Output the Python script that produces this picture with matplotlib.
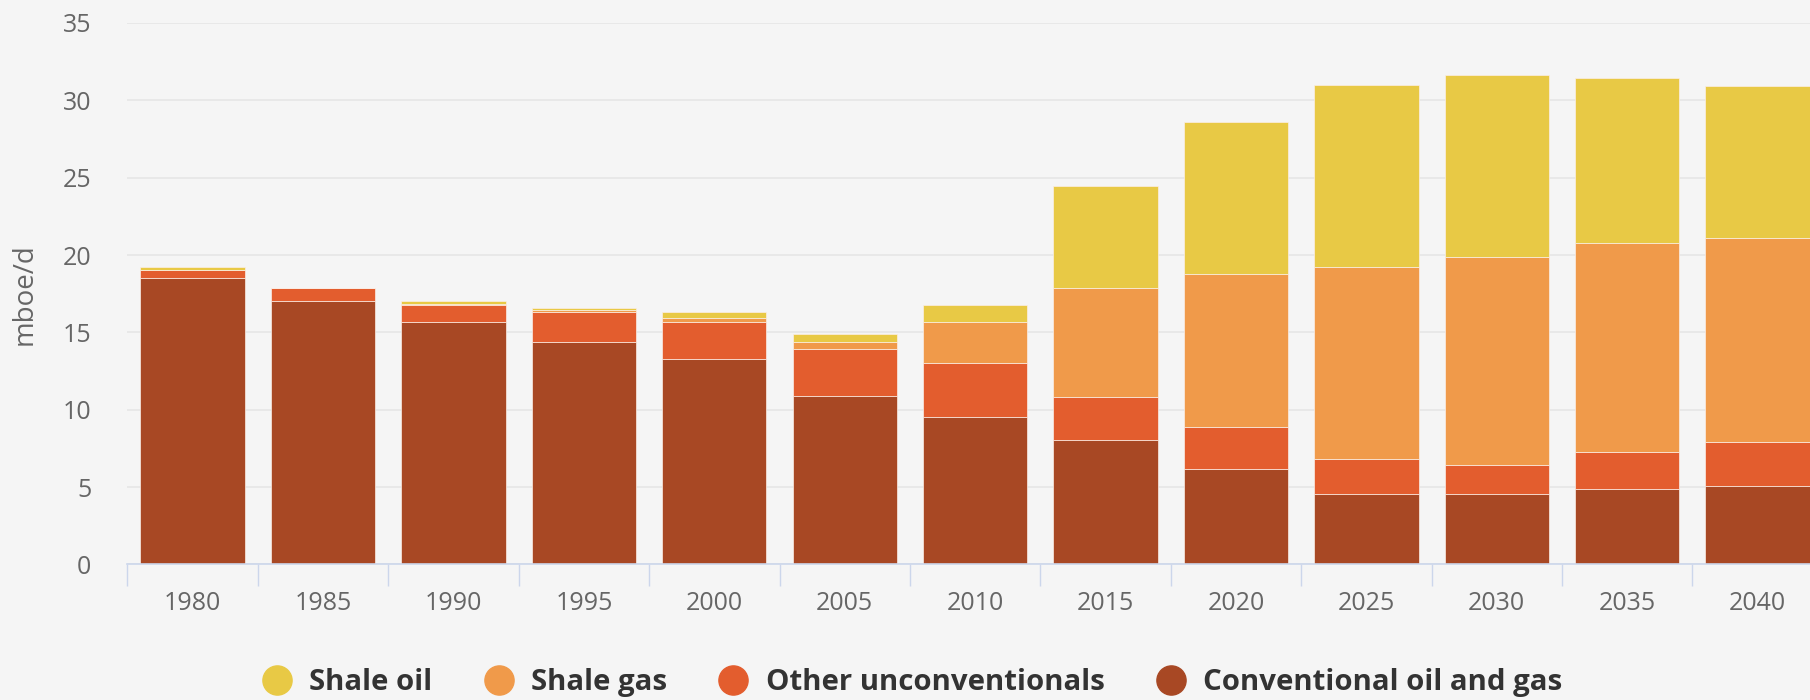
import matplotlib.pyplot as plt
from matplotlib.lines import Line2D
import numpy as np

years = ["1980", "1985", "1990", "1995", "2000", "2005", "2010",
         "2015", "2020", "2025", "2030", "2035", "2040"]
conventional = [18.5, 17.05, 15.65, 14.4, 13.3, 10.9, 9.5, 8.05, 6.15, 4.55, 4.55, 4.9, 5.05]
other_unconv = [0.55, 0.85, 1.1, 1.9, 2.36, 3.05, 3.5, 2.75, 2.75, 2.25, 1.9, 2.35, 2.85]
shale_gas = [0.0, 0.0, 0.1, 0.15, 0.3, 0.45, 2.7, 7.1, 9.85, 12.4, 13.4, 13.55, 13.2]
shale_oil = [0.15, 0.0, 0.2, 0.15, 0.35, 0.5, 1.1, 6.55, 9.85, 11.8, 11.8, 10.65, 9.85]

series = [
    ("Conventional oil and gas", conventional, "#a84824"),
    ("Other unconventionals", other_unconv, "#e35d2e"),
    ("Shale gas", shale_gas, "#f09a4a"),
    ("Shale oil", shale_oil, "#e8c945"),
]

bg = "#f5f5f5"
plt.rcParams['font.family'] = ['Open Sans', 'DejaVu Sans']

fig = plt.figure(figsize=(18.1, 7), dpi=100, facecolor=bg)
ax = fig.add_axes([0.0704, 0.1936, 0.9367, 0.7736], facecolor=bg)

x = np.arange(len(years))
bottom = np.zeros(len(years))
for name, vals, col in series:
    ax.bar(x, vals, width=0.8, bottom=bottom, color=col,
           edgecolor="#fbeee6", linewidth=0.5, zorder=3)
    bottom += np.array(vals)

ax.set_xlim(-0.5, len(years) - 0.5)
ax.set_ylim(0, 35)
ax.set_yticks(range(0, 36, 5))
ax.set_xticks(x)
ax.set_xticklabels(years)
ax.set_xticks(np.arange(-0.5, len(years), 1), minor=True)

ax.tick_params(axis="x", which="major", length=0, pad=19, labelsize=18, labelcolor="#666666")
ax.tick_params(axis="x", which="minor", length=16, width=1, color="#ccd6eb")
ax.tick_params(axis="y", length=0, pad=26, labelsize=18, labelcolor="#666666")

ax.grid(axis="y", color="#e6e6e6", linewidth=1.2, zorder=0)
ax.set_axisbelow(True)
for s in ["top", "right", "left"]:
    ax.spines[s].set_visible(False)
ax.spines["bottom"].set_color("#ccd6eb")
ax.spines["bottom"].set_linewidth(1.2)
ax.spines["bottom"].set_zorder(4)

ax.set_ylabel("mboe/d", fontsize=20, color="#666666", labelpad=17)

handles = [Line2D([0], [0], marker="o", linestyle="none", markersize=21,
                  markerfacecolor=col, markeredgecolor=col, label=name)
           for name, vals, col in reversed(series)]
leg = fig.legend(handles=handles, loc="center", bbox_to_anchor=(0.504, 0.025), ncol=4,
                 frameon=False, handlelength=1.0, handletextpad=0.6, columnspacing=1.75,
                 prop={"weight": "bold", "size": 21.2})
for t in leg.get_texts():
    t.set_color("#333333")

fig.savefig("out.png", dpi=100, facecolor=bg)
